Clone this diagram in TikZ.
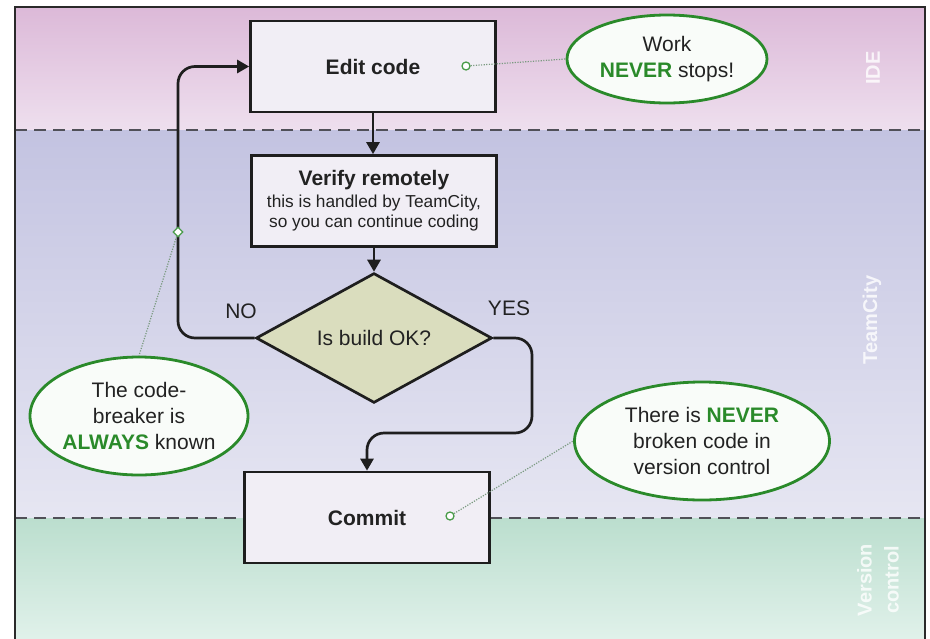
\documentclass[tikz,border=0pt]{standalone}
\usepackage{fontspec}
\setmainfont{Liberation Sans}
\usetikzlibrary{shapes.geometric,arrows.meta}
\definecolor{idetop}{HTML}{DCB9D8}
\definecolor{idebot}{HTML}{EEDFEE}
\definecolor{tctop}{HTML}{C3C3E1}
\definecolor{tcbot}{HTML}{E6E6F2}
\definecolor{vctop}{HTML}{BBDECE}
\definecolor{vcbot}{HTML}{E0F1EA}
\definecolor{boxline}{HTML}{1E1E1E}
\definecolor{boxfill}{HTML}{F1EEF5}
\definecolor{diafill}{HTML}{DADDBE}
\definecolor{notegreen}{HTML}{2A8A2A}
\definecolor{notefill}{HTML}{F9FCF9}
\definecolor{dotcol}{HTML}{7A9A80}
\definecolor{lanedash}{HTML}{505058}
\definecolor{framecol}{HTML}{2A2A2A}
\definecolor{textcol}{HTML}{222222}
\begin{document}
\begin{tikzpicture}[x=1pt,y=-1pt,
  box/.style={draw=boxline, line width=2.7pt, fill=boxfill, minimum width=245pt,
    minimum height=91pt, inner sep=0pt, text=textcol, font=\fontsize{21}{24}\selectfont\bfseries},
  decide/.style={diamond, draw=boxline, line width=2.7pt, fill=diafill, minimum width=236pt,
    minimum height=110pt, inner sep=0pt, text=textcol, font=\fontsize{21}{24}\selectfont},
  flow/.style={draw=boxline, line width=2.7pt, -{Triangle[length=12pt,width=13pt]}},
  note/.style={ellipse, draw=notegreen, line width=2.8pt, fill=notefill, inner sep=0pt,
    align=center, text=textcol, font=\fontsize{21}{26}\selectfont},
  answer/.style={text=textcol, font=\fontsize{21}{24}\selectfont},
  circmark/.style={circle, draw=notegreen!85, fill=white, line width=1.3pt, minimum size=8pt, inner sep=0pt},
  diamark/.style={diamond, draw=notegreen!85, fill=white, line width=1.3pt, minimum size=10pt, inner sep=0pt},
  dotline/.style={draw=dotcol, line width=1.2pt, dash pattern=on 1.2pt off 1.4pt},
  lanedivider/.style={draw=lanedash, line width=2pt, dash pattern=on 12pt off 7pt},
  lane/.style={text=white, text opacity=0.8, align=center, font=\fontsize{20}{27}\selectfont\bfseries}
]
\useasboundingbox (0,0) rectangle (930,638);
\fill[white] (0,0) rectangle (930,638);
% swim lane backgrounds
\shade[top color=idetop, bottom color=idebot] (15,7) rectangle (925,130);
\shade[top color=tctop, bottom color=tcbot] (15,130) rectangle (925,518);
\shade[top color=vctop, bottom color=vcbot] (15,518) rectangle (925,638);
\draw[lanedivider] (15,130) -- (925,130);
\draw[lanedivider] (15,518) -- (925,518);
\draw[framecol, line width=1.6pt] (15,640) -- (15,7) -- (925,7) -- (925,640);
% lane labels
\node[lane, rotate=90] (idelbl) at (873,68) {IDE};
\node[lane, rotate=90] (tclbl) at (872,320) {TeamCity};
\node[lane, rotate=90] (vclbl) at (878,580) {Version\\control};
% flow nodes
\node[box] (edit) at (373,66.5) {Edit code};
\node[box, align=center, font=\fontsize{17.3}{20}\selectfont] (verify) at (374,201)
  {{\fontsize{21}{24}\selectfont\bfseries Verify remotely}\\[2pt]
   this is handled by TeamCity,\\
   so you can continue coding};
\node[decide] (decision) at (374,338) {Is build OK?};
\node[box] (commit) at (367,517.5) {Commit};
% connectors
\coordinate (noleft) at (178,200);
\coordinate (yesturn) at (532,433);
\draw[flow] (edit.south) -- (edit.south |- verify.north);
\draw[flow] (verify.south -| decision.north) -- (decision.north);
\draw[flow, rounded corners=17pt] (decision.west) -| (noleft) |- (edit.west);
\draw[flow, rounded corners=17pt] (decision.east) -| (yesturn) -| (commit.north);
\node[answer] (nolbl) at (241,311) {NO};
\node[answer] (yeslbl) at (509,308) {YES};
% notes
\node[note, minimum width=200pt, minimum height=88pt] (work) at (667,59)
  {Work\\\textcolor{notegreen}{\bfseries NEVER} stops!};
\node[note, minimum width=218pt, minimum height=118pt] (breaker) at (139,416)
  {The code-\\breaker is\\\textcolor{notegreen}{\bfseries ALWAYS} known};
\node[note, minimum width=255pt, minimum height=118pt] (never) at (702,441)
  {There is \textcolor{notegreen}{\bfseries NEVER}\\broken code in\\version control};
% markers and dotted links
\node[circmark] (editmark) at (466,66) {};
\node[diamark] (nomark) at (178,232) {};
\node[circmark] (commitmark) at (450,516) {};
\draw[dotline] (editmark) -- (work.west);
\draw[dotline] (nomark) -- (breaker.north);
\draw[dotline] (commitmark) -- (never.west);
\end{tikzpicture}
\end{document}
